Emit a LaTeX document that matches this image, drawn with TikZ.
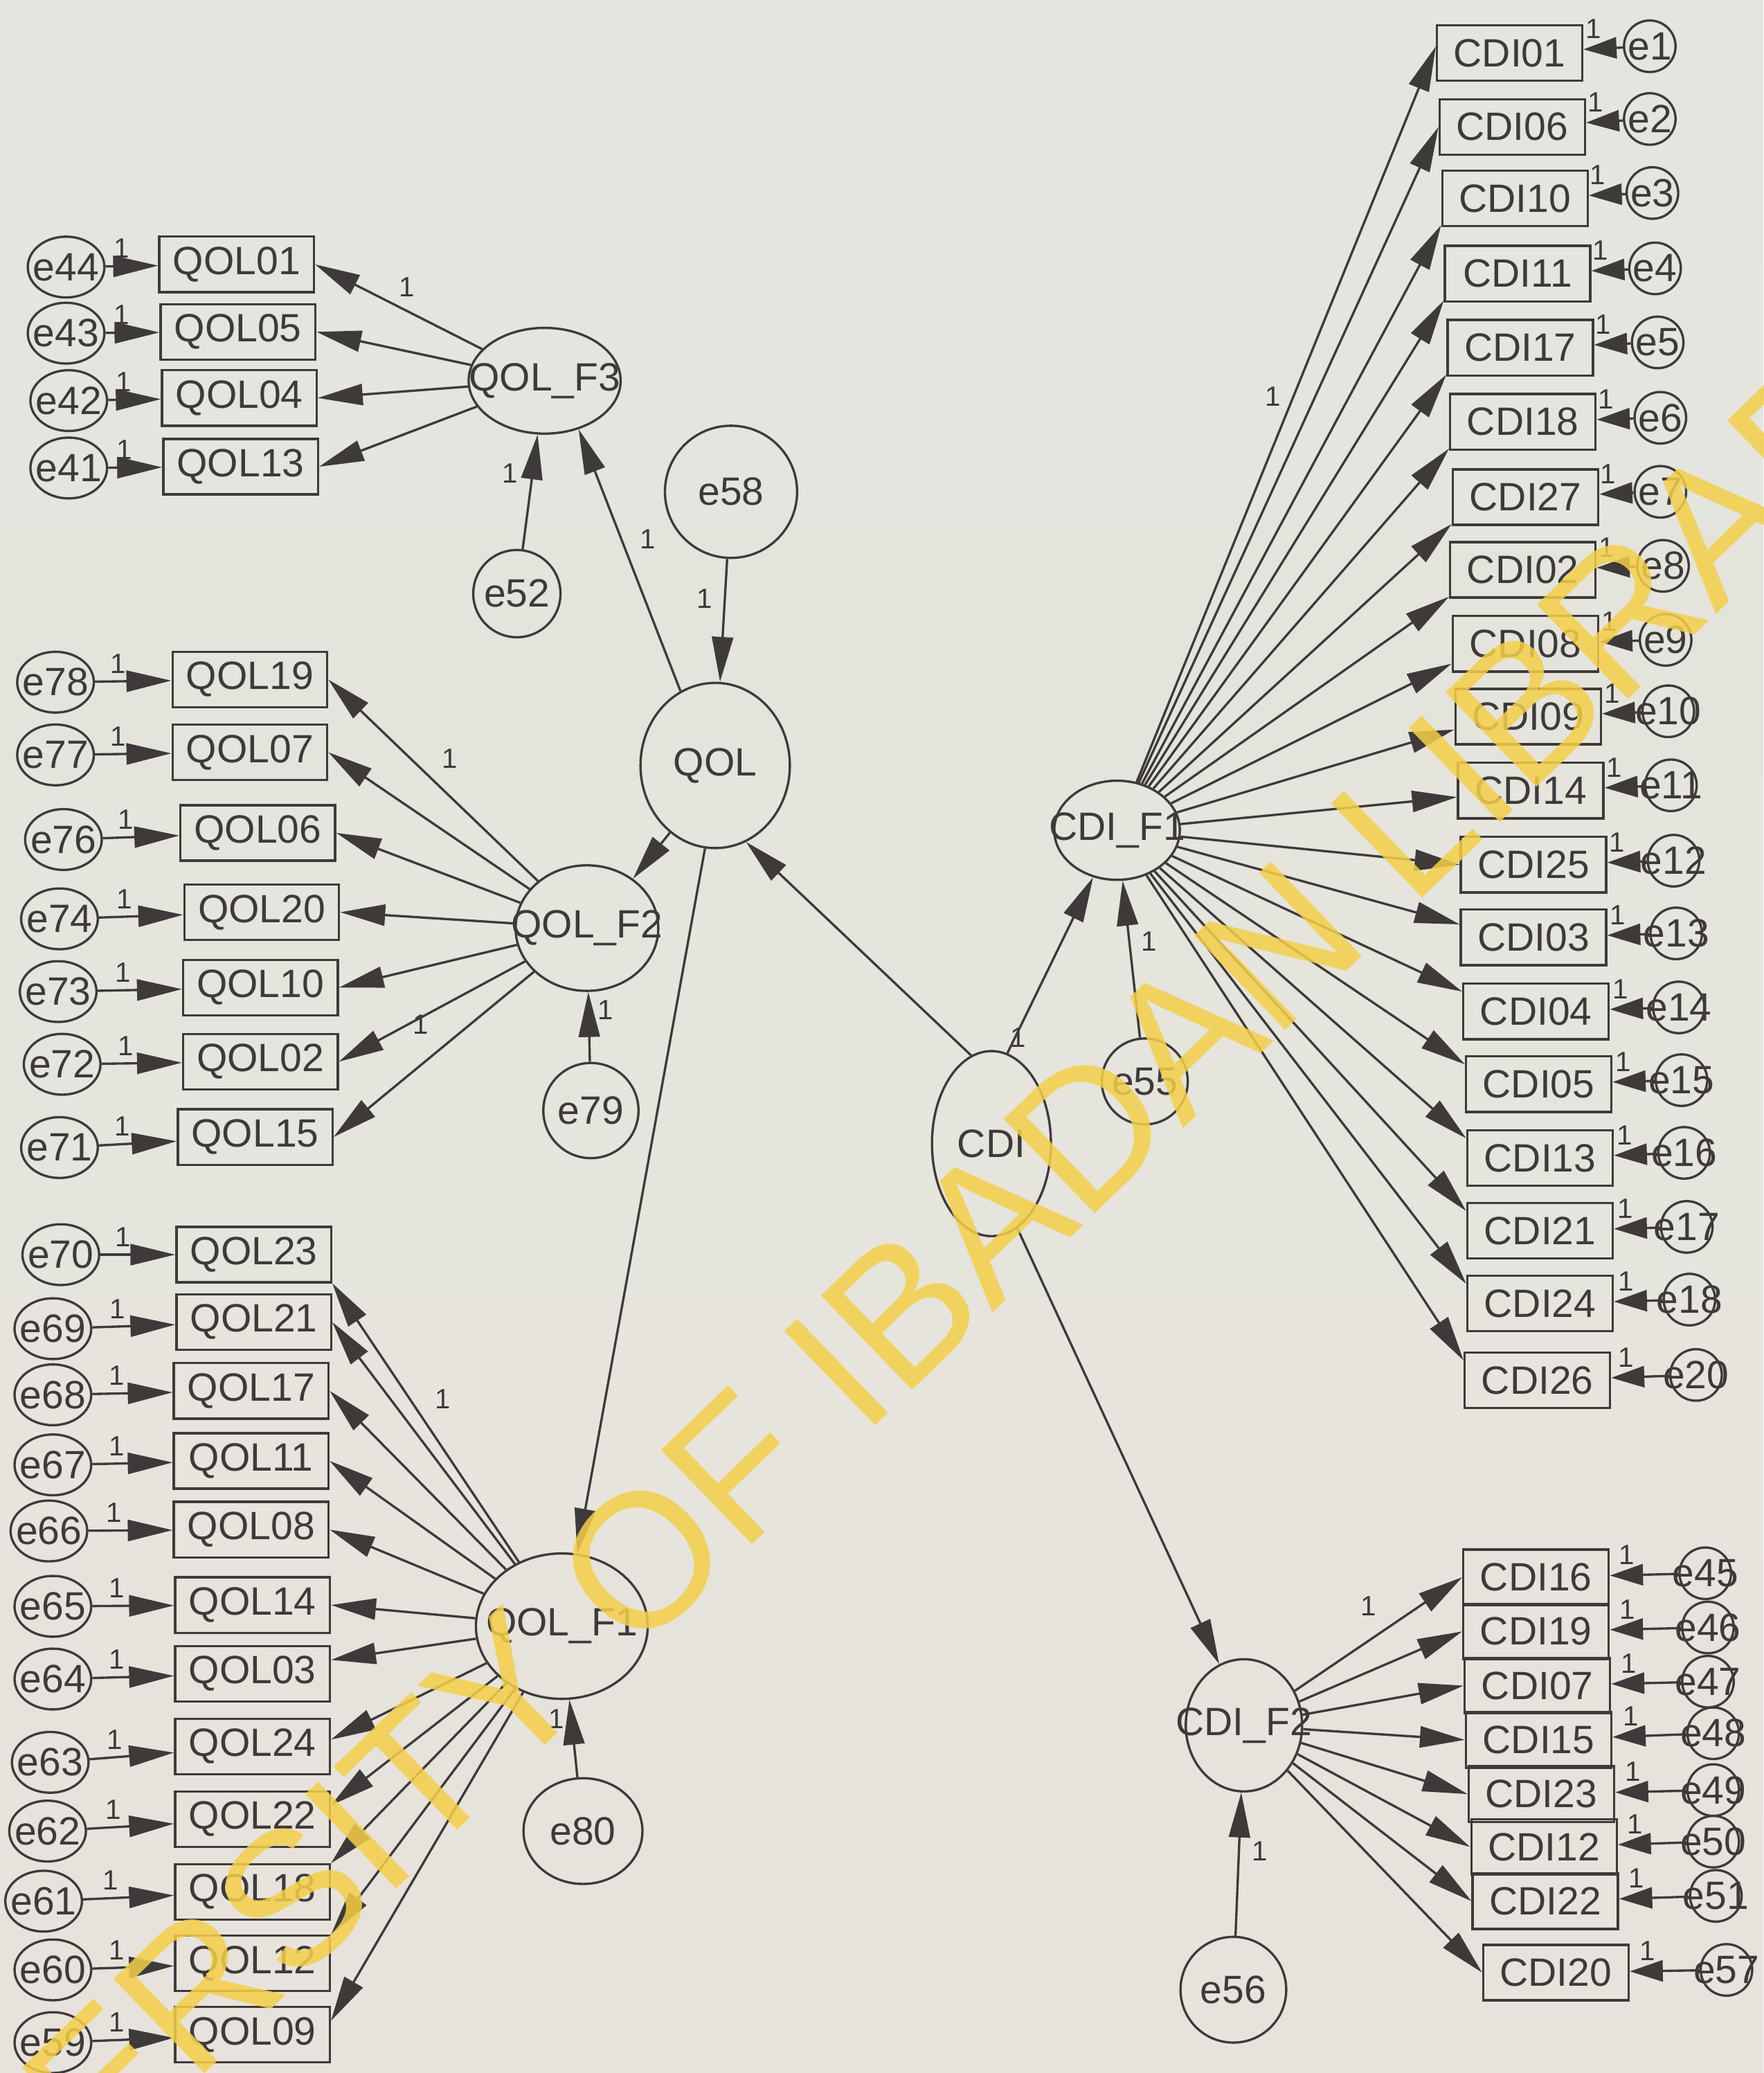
\documentclass[tikz,border=0pt]{standalone}
\usepackage{fontspec}
\setmainfont{Liberation Sans}
\usetikzlibrary{arrows.meta,shapes.geometric}
\definecolor{paper}{RGB}{227,229,222}
\definecolor{paperlow}{RGB}{231,227,220}
\definecolor{ink}{RGB}{62,58,58}
\definecolor{stamp}{RGB}{245,207,72}
\newcommand{\semfont}{\fontsize{17}{20}\selectfont}
\newcommand{\nlab}[1]{\makebox[0pt]{#1}}

\begin{document}
\begin{tikzpicture}[x=0.02cm, y=-0.02cm,
      obs/.style={draw=ink, line width=1pt, minimum width=2.34cm, minimum height=0.84cm,
                  inner sep=0pt, font=\semfont, text=ink},
      cobs/.style={obs, minimum width=2.2cm},
      lat/.style={draw=ink, line width=1pt, ellipse, inner sep=0pt, font=\semfont, text=ink},
      err/.style={lat, minimum width=1.16cm, minimum height=0.92cm},
      serr/.style={lat, circle, minimum size=0.78cm},
      arr/.style={-{Triangle[length=0.68cm,width=0.32cm]}, line width=1pt, draw=ink},
      sarr/.style={arr, -{Triangle[length=0.5cm,width=0.32cm]}},
      one/.style={font=\fontsize{12}{12}\selectfont, text=ink, inner sep=1pt}
  ]
    \shade[top color=paper, bottom color=paperlow] (0,0) rectangle (1334,1568);
    \useasboundingbox (0,0) rectangle (1334,1568);

    % latent variables
    \node[lat, minimum width=2.3cm, minimum height=1.6cm] (QOLF3) at (412,288) {\nlab{QOL\_F3}};
    \node[lat, minimum width=2.26cm, minimum height=2.5cm] (QOL) at (541,579) {QOL};
    \node[lat, minimum width=2.16cm, minimum height=1.9cm] (QOLF2) at (444,702) {\nlab{QOL\_F2}};
    \node[lat, minimum width=2.6cm, minimum height=2.2cm] (QOLF1) at (425,1230) {\nlab{QOL\_F1}};
    \node[lat, minimum width=1.8cm, minimum height=2.8cm] (CDI) at (750,865) {CDI};
    \node[lat, minimum width=1.9cm, minimum height=1.5cm] (CDIF1) at (845,628) {\nlab{CDI\_F1}};
    \node[lat, minimum width=1.76cm, minimum height=2cm] (CDIF2) at (941,1305) {\nlab{CDI\_F2}};

    % disturbances
    \node[lat, minimum size=2cm] (e58) at (553,372) {e58};
    \node[lat, minimum size=1.32cm] (e52) at (391,449) {\nlab{e52}};
    \node[lat, minimum size=1.44cm] (e79) at (447,840) {\nlab{e79}};
    \node[lat, minimum width=1.8cm, minimum height=1.6cm] (e80) at (441,1385) {e80};
    \node[lat, minimum size=1.3cm] (e55) at (866,818) {\nlab{e55}};
    \node[lat, minimum size=1.6cm] (e56) at (933,1505) {e56};

    % structural paths
    \draw[arr] (QOL.115) -- (QOLF3.-55);
    \draw[arr] (QOL.-124) -- (QOLF2.47);
    \draw[arr] (QOL.-97) -- (QOLF1.78);
    \draw[arr] (CDI.103) -- (QOL.-68);
    \draw[arr] (CDI.80) -- (CDIF1.-117);
    \draw[arr] (CDI.-73) -- (CDIF2.112);
    \draw[arr] (e58) -- (QOL); \draw[arr] (e52) -- (QOLF3); \draw[arr] (e79) -- (QOLF2);
    \draw[arr] (e80) -- (QOLF1); \draw[arr] (e55) -- (CDIF1); \draw[arr] (e56) -- (CDIF2);

    % QOL_F3 items
    \foreach \v/\x/\y/\a/\e/\ex/\ey in {QOL01/179/200/0/e44/50/202, QOL05/180/251/0/e43/50/252,
        QOL04/181/301/0/e42/52/303, QOL13/182/353/0/e41/52/354}{
      \node[obs] (\v) at (\x,\y) {\v};
      \node[err] (\e) at (\ex,\ey) {\nlab{\e}};
      \draw[arr] (\e) -- (\v) node[pos=.3, above=2pt, one] {1};
      \draw[arr] (QOLF3) -- (\v.\a);
    }
    % QOL_F2 items
    \foreach \v/\x/\y/\a/\e/\ex/\ey in {QOL19/189/514/0/e78/42/516, QOL07/189/569/0/e77/42/571,
        QOL06/195/630/0/e76/48/635, QOL20/198/690/0/e74/45/695, QOL10/197/747/0/e73/44/750,
        QOL02/197/803/0/e72/47/805, QOL15/193/860/0/e71/45/868}{
      \node[obs] (\v) at (\x,\y) {\v};
      \node[err] (\e) at (\ex,\ey) {\nlab{\e}};
      \draw[arr] (\e) -- (\v) node[pos=.3, above=2pt, one] {1};
      \draw[arr] (QOLF2) -- (\v.\a);
    }
    % QOL_F1 items
    \foreach \v/\x/\y/\a/\e/\ex/\ey in {QOL23/192/949/-20/e70/46/949, QOL21/192/1000/0/e69/40/1005,
        QOL17/190/1052/0/e68/40/1055, QOL11/190/1105/0/e67/40/1108, QOL08/190/1157/0/e66/37/1158,
        QOL14/191/1214/0/e65/40/1215, QOL03/191/1266/10/e64/40/1270, QOL24/191/1321/5/e63/38/1333,
        QOL22/191/1376/10/e62/36/1385, QOL18/191/1431/20/e61/33/1438, QOL12/191/1485/20/e60/40/1490,
        QOL09/191/1539/10/e59/40/1545}{
      \node[obs] (\v) at (\x,\y) {\v};
      \node[err] (\e) at (\ex,\ey) {\nlab{\e}};
      \draw[arr] (\e) -- (\v) node[pos=.3, above=2pt, one] {1};
      \draw[arr] (QOLF1) -- (\v.\a);
    }
    % CDI_F1 items
    \foreach \v/\x/\y/\a/\e/\ex/\ey in {CDI01/1142/40/175/e1/1248/35, CDI06/1144/96/180/e2/1248/90,
        CDI10/1146/150/200/e3/1250/146, CDI11/1148/207/200/e4/1252/203, CDI17/1150/263/200/e5/1254/259,
        CDI18/1152/319/200/e6/1256/316, CDI27/1154/376/200/e7/1256/372, CDI02/1152/431/200/e8/1258/428,
        CDI08/1154/487/195/e9/1260/484, CDI09/1156/542/190/e10/1262/538, CDI14/1158/598/185/e11/1264/594,
        CDI25/1160/654/180/e12/1266/651, CDI03/1160/709/170/e13/1268/706, CDI04/1162/765/165/e14/1270/762,
        CDI05/1164/820/165/e15/1272/817, CDI13/1165/876/165/e16/1274/872, CDI21/1165/931/165/e17/1276/928,
        CDI24/1165/986/165/e18/1278/983, CDI26/1163/1044/165/e20/1283/1040}{
      \node[cobs] (\v) at (\x,\y) {\v};
      \node[serr] (\e) at (\ex,\ey) {\nlab{\e}};
      \draw[sarr] (\e) -- (\v) node[pos=.75, above=3pt, one] {1};
      \draw[arr] (CDIF1) -- (\v.\a);
    }
    % CDI_F2 items
    \foreach \v/\x/\y/\a/\e/\ex/\ey in {CDI16/1162/1193/180/e45/1290/1190, CDI19/1162/1234/180/e46/1292/1231,
        CDI07/1163/1275/180/e47/1292/1272, CDI15/1164/1316/180/e48/1296/1311, CDI23/1166/1357/180/e49/1296/1354,
        CDI12/1168/1397/180/e50/1296/1393, CDI22/1169/1438/180/e51/1298/1434, CDI20/1177/1492/180/e57/1306/1490}{
      \node[cobs] (\v) at (\x,\y) {\v};
      \node[serr] (\e) at (\ex,\ey) {\nlab{\e}};
      \draw[sarr] (\e) -- (\v) node[pos=.75, above=3pt, one] {1};
      \draw[arr] (CDIF2) -- (\v.\a);
    }

    % fixed paths
    \node[one] (w1) at (308,217) {1};
    \node[one] (w2) at (490,408) {1};
    \node[one] (w3) at (386,358) {1};
    \node[one] (w4) at (533,453) {1};
    \node[one] (w5) at (340,574) {1};
    \node[one] (w6) at (318,775) {1};
    \node[one] (w7) at (458,764) {1};
    \node[one] (w8) at (335,1058) {1};
    \node[one] (w9) at (421,1300) {1};
    \node[one] (w10) at (770,785) {1};
    \node[one] (w11) at (869,712) {1};
    \node[one] (w12) at (963,300) {1};
    \node[one] (w13) at (1035,1215) {1};
    \node[one] (w14) at (953,1400) {1};

    % library stamp
    \begin{scope}
      \clip (0,0) rectangle (1334,1568);
      \node[rotate=44, text=stamp, opacity=.85, font=\fontsize{82}{82}\selectfont] (mark) at (635,1036)
        {UNIVERSITY OF IBADAN LIBRARY};
    \end{scope}
\end{tikzpicture}
\end{document}
